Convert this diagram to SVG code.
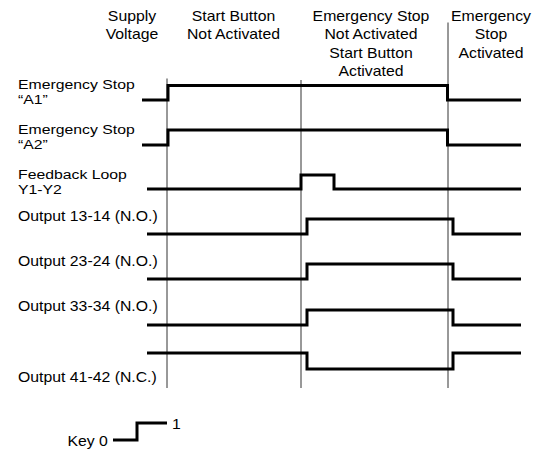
<svg xmlns="http://www.w3.org/2000/svg" width="547" height="451" viewBox="0 0 547 451">
<style>
.t{font-family:"Liberation Sans",Arial,Helvetica,sans-serif;font-size:14px;fill:#000}
.s{font-size:13.5px}
.m{text-anchor:middle}
.sig{fill:none;stroke:#000;stroke-width:3;stroke-linejoin:miter;stroke-linecap:butt}
.grid{fill:none;stroke:#333;stroke-width:1}
</style>
<rect width="547" height="451" fill="#fff"/>
<g id="headers">
  <text class="t m" transform="translate(132 20.5) scale(1.13 1)">Supply</text>
  <text class="t m" transform="translate(132 39) scale(1.13 1)">Voltage</text>
  <text class="t m" transform="translate(233.5 20.5) scale(1.13 1)">Start Button</text>
  <text class="t m" transform="translate(233.5 39) scale(1.13 1)">Not Activated</text>
  <text class="t m" transform="translate(371 20.5) scale(1.13 1)">Emergency Stop</text>
  <text class="t m" transform="translate(371 39) scale(1.13 1)">Not Activated</text>
  <text class="t m" transform="translate(371 57.5) scale(1.13 1)">Start Button</text>
  <text class="t m" transform="translate(371 76) scale(1.13 1)">Activated</text>
  <text class="t m" transform="translate(491 20.5) scale(1.13 1)">Emergency</text>
  <text class="t m" transform="translate(491 39) scale(1.13 1)">Stop</text>
  <text class="t m" transform="translate(491 57.5) scale(1.13 1)">Activated</text>
</g>
<g id="connectors">
  <line class="grid" x1="167" y1="78.5" x2="167" y2="388"/>
  <line class="grid" x1="301" y1="80" x2="301" y2="388"/>
  <line class="grid" x1="448" y1="22.5" x2="448" y2="388"/>
</g>
<g id="row-a1">
  <text class="t s" transform="translate(18 88.5) scale(1.17 1)">Emergency Stop</text>
  <text class="t s" transform="translate(18 104) scale(1.17 1)">“A1”</text>
  <path class="sig" d="M142,100 H168 V85.5 H447.5 V100 H521"/>
</g>
<g id="row-a2">
  <text class="t s" transform="translate(18 133.5) scale(1.17 1)">Emergency Stop</text>
  <text class="t s" transform="translate(18 149) scale(1.17 1)">“A2”</text>
  <path class="sig" d="M142,145 H168 V130 H447.5 V145 H521"/>
</g>
<g id="row-feedback">
  <text class="t s" transform="translate(18 178.5) scale(1.17 1)">Feedback Loop</text>
  <text class="t s" transform="translate(18 194) scale(1.17 1)">Y1-Y2</text>
  <path class="sig" d="M147,189 H301 V175 H334 V189 H521"/>
</g>
<g id="row-out1314">
  <text class="t" transform="translate(18 221) scale(1.13 1)">Output 13-14 (N.O.)</text>
  <path class="sig" d="M147,234 H307 V219 H453 V234 H521"/>
</g>
<g id="row-out2324">
  <text class="t" transform="translate(18 266) scale(1.13 1)">Output 23-24 (N.O.)</text>
  <path class="sig" d="M147,279 H307 V264 H453 V279 H521"/>
</g>
<g id="row-out3334">
  <text class="t" transform="translate(18 311) scale(1.13 1)">Output 33-34 (N.O.)</text>
  <path class="sig" d="M147,325 H307 V310 H453 V325 H521"/>
</g>
<g id="row-out4142">
  <text class="t" transform="translate(18 382) scale(1.13 1)">Output 41-42 (N.C.)</text>
  <path class="sig" d="M147,353 H307 V369 H453 V353 H521"/>
</g>
<g id="key">
  <text class="t" transform="translate(67.5 446) scale(1.13 1)">Key 0</text>
  <path class="sig" d="M113,440 H137 V423 H167"/>
  <text class="t" transform="translate(172 429) scale(1.13 1)">1</text>
</g>
</svg>
